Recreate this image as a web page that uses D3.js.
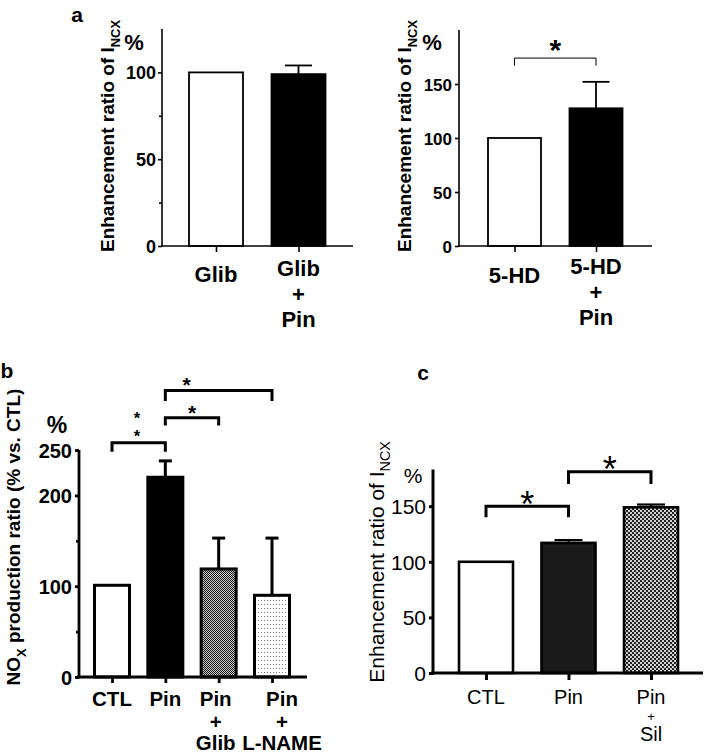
<!DOCTYPE html>
<html><head><meta charset="utf-8">
<script src="https://cdn.jsdelivr.net/npm/d3@7"></script>
<style>
body{margin:0;background:#fff}
svg{display:block}
text{font-family:"Liberation Sans",Arial,Helvetica,sans-serif;fill:#000}
</style>
</head><body>
<svg id="chart" width="709" height="753"></svg>
<script>
// ---------- DATA ----------
// Panel a (left)
const aLeftCategories = ["Glib", "Glib\n+\nPin"];
const aLeftValues = [100, 99];
const aLeftErrors = [0, 5];
const aLeftTicks = [0, 50, 100];
const aLeftMinorTicks = [25, 75];
const aLeftSig = [];

// Panel a (right)
const aRightCategories = ["5-HD", "5-HD\n+\nPin"];
const aRightValues = [100, 127.5];
const aRightErrors = [0, 24.5];
const aRightTicks = [0, 50, 100, 150];
const aRightMinorTicks = [];
const aRightSig = [{from: 0, to: 1, level: 174, leg: 167, label: "*", pos: 0.5}];

// Panel b
const bCategories = ["CTL", "Pin", "Pin\n+\nGlib", "Pin\n+\nL-NAME"];
const bValues = [101, 220, 119, 90];
const bErrors = [0, 18, 34, 63];
const bTicks = [0, 100, 200, 250];
const bMinorTicks = [50, 150];
const bSig = [
  {from: 0, to: 1, level: 258, leg: 248, label: "*\n*", pos: 0.47},
  {from: 1, to: 2, level: 285.5, leg: 277, label: "*", pos: 0.5},
  {from: 1, to: 3, level: 315.5, leg: 304, label: "*", pos: 0.2}
];

// Panel c
const cCategories = ["CTL", "Pin", "Pin\n+\nSil"];
const cValues = [100, 117, 149];
const cErrors = [0, 2.5, 2.5];
const cTicks = [0, 50, 100, 150];
const cMinorTicks = [];
const cSig = [
  {from: 0, to: 1, level: 150, leg: 140, label: "*", pos: 0.5},
  {from: 1, to: 2, level: 181, leg: 170, label: "*", pos: 0.5}
];

// ---------- DRAWING ----------
const svg = d3.select("#chart");
const defs = svg.append("defs");

// checker pattern (Pin + Glib)
const p1 = defs.append("pattern").attr("id","checkFine").attr("patternUnits","userSpaceOnUse").attr("width",2).attr("height",2);
p1.append("rect").attr("width",2).attr("height",2).attr("fill","#c8c8c8");
p1.append("rect").attr("width",1).attr("height",1).attr("fill","#1a1a1a");
p1.append("rect").attr("x",1).attr("y",1).attr("width",1).attr("height",1).attr("fill","#1a1a1a");
// dotted pattern (Pin + L-NAME)
const p2 = defs.append("pattern").attr("id","dots").attr("patternUnits","userSpaceOnUse").attr("width",3).attr("height",4);
p2.append("rect").attr("width",3).attr("height",4).attr("fill","#fff");
p2.append("rect").attr("width",1).attr("height",1).attr("fill","#777");
// checker pattern (Pin + Sil)
const p3 = defs.append("pattern").attr("id","checkC").attr("patternUnits","userSpaceOnUse").attr("width",4).attr("height",4);
p3.append("rect").attr("width",4).attr("height",4).attr("fill","#d0d0d0");
p3.append("rect").attr("width",2).attr("height",2).attr("fill","#222");
p3.append("rect").attr("x",2).attr("y",2).attr("width",2).attr("height",2).attr("fill","#222");

function panel(cfg) {
  const g = svg.append("g");
  const x = d3.scalePoint().domain(cfg.cats).range(cfg.xCenters);
  const y = d3.scaleLinear().domain(cfg.yDomain).range([cfg.y0, cfg.yTop]);
  const lw = cfg.lineW;

  // bars
  g.selectAll("rect.bar").data(cfg.cats).join("rect").attr("class","bar")
    .attr("x", d => x(d) - cfg.barW/2)
    .attr("y", (d,i) => y(cfg.values[i]))
    .attr("width", cfg.barW)
    .attr("height", (d,i) => y(0) - y(cfg.values[i]))
    .attr("fill", (d,i) => cfg.fills[i])
    .attr("stroke", "#000").attr("stroke-width", cfg.barStroke);

  // error bars (upper)
  cfg.cats.forEach((c,i) => {
    const e = cfg.errors[i];
    if (!e) return;
    const cx = x(c), top = y(cfg.values[i] + e);
    g.append("line").attr("x1",cx).attr("x2",cx).attr("y1",y(cfg.values[i])).attr("y2",top)
      .attr("stroke","#000").attr("stroke-width",cfg.errW);
    g.append("line").attr("x1",cx-cfg.capW/2).attr("x2",cx+cfg.capW/2).attr("y1",top).attr("y2",top)
      .attr("stroke","#000").attr("stroke-width",cfg.errW);
  });

  // y axis
  const ya = g.append("g").attr("transform",`translate(${cfg.axisX},0)`)
    .call(d3.axisLeft(y).tickValues(cfg.ticks).tickFormat(d3.format("d"))
      .tickSize(cfg.tickLen).tickPadding(cfg.tickPad).tickSizeOuter(0));
  ya.select(".domain").remove();
  ya.selectAll(".tick line").attr("stroke","#000").attr("stroke-width",lw);
  ya.selectAll(".tick text").attr("font-size",cfg.tickFont).attr("font-weight",cfg.weight)
    .attr("font-family",null).attr("fill","#000").attr("dy","0.36em");
  if (cfg.minor.length) {
    const ym = g.append("g").attr("transform",`translate(${cfg.axisX},0)`)
      .call(d3.axisLeft(y).tickValues(cfg.minor).tickFormat("").tickSize(cfg.minorLen).tickSizeOuter(0));
    ym.select(".domain").remove();
    ym.selectAll(".tick line").attr("stroke","#000").attr("stroke-width",lw);
  }
  g.append("line").attr("x1",cfg.axisX).attr("x2",cfg.axisX).attr("y1",cfg.y0 + lw/2).attr("y2",y(cfg.yDomain[1]))
    .attr("stroke","#000").attr("stroke-width",lw);

  // x axis
  const xa = g.append("g").attr("transform",`translate(0,${cfg.y0})`)
    .call(d3.axisBottom(x).tickFormat("").tickSize(cfg.xTickLen).tickSizeOuter(0));
  xa.select(".domain").remove();
  xa.selectAll(".tick line").attr("stroke","#000").attr("stroke-width",lw);
  g.append("line").attr("x1",cfg.xAxisStart).attr("x2",cfg.xAxisEnd).attr("y1",cfg.y0).attr("y2",cfg.y0)
    .attr("stroke","#000").attr("stroke-width",lw);

  // x labels
  cfg.cats.forEach((c,i) => {
    const lines = c.split("\n");
    const dx = cfg.labelShift ? cfg.labelShift[i] : 0;
    if (lines.length === 1) {
      g.append("text").attr("text-anchor","middle").attr("font-size",cfg.xFont).attr("font-weight",cfg.weight)
        .attr("x",x(c)+dx).attr("y",cfg.singleBase).text(lines[0]);
    } else {
      lines.forEach((ln,k) => {
        const t = g.append("text").attr("text-anchor","middle").attr("font-size",cfg.xFont).attr("font-weight",cfg.weight)
          .attr("x",x(c)+dx).attr("y",cfg.multiBase[k]).text(ln);
        if (ln === "+" && cfg.plusFont) t.attr("font-size",cfg.plusFont);
      });
    }
  });

  // y title
  const yt = g.append("text").attr("transform",`translate(${cfg.titleX},${cfg.titleY}) rotate(-90)`)
    .attr("text-anchor","middle").attr("font-size",cfg.titleFont).attr("font-weight",cfg.weight);
  cfg.title.forEach(part => {
    const ts = yt.append("tspan").text(part.t);
    if (part.sub) ts.attr("font-size",cfg.titleFont*0.68).attr("dy",cfg.titleFont*0.3);
    else if (part.after) ts.attr("dy",-cfg.titleFont*0.3);
  });

  // percent label
  g.append("text").attr("x",cfg.pctX).attr("y",cfg.pctY).attr("text-anchor","middle")
    .attr("font-size",cfg.pctFont).attr("font-weight",cfg.weight).attr("dy","0.36em").text("%");

  // significance brackets
  cfg.sig.forEach(s => {
    const x1 = x(cfg.cats[s.from]), x2 = x(cfg.cats[s.to]);
    const yl = y(s.level), yb = y(s.leg);
    g.append("path").attr("d",`M${x1},${yb}V${yl}H${x2}V${yb}`)
      .attr("fill","none").attr("stroke","#000").attr("stroke-width",cfg.sigW);
    const sx = x1 + (x2 - x1)*s.pos;
    const stars = s.label.split("\n");
    const fs = stars.length > 1 ? cfg.stackFont : cfg.starFont;
    stars.forEach((st,k) => {
      const cy = yl - cfg.starGap - (stars.length-1-k)*cfg.starStep;
      g.append("text").attr("text-anchor","middle").attr("font-size",fs).attr("font-weight",cfg.weight)
        .attr("x",sx).attr("y",cy + fs*0.57).text(st);
    });
  });

  // panel letter
  if (cfg.letter) {
    svg.append("text").attr("x",cfg.letter.x).attr("y",cfg.letter.y).attr("text-anchor","middle")
      .attr("dy","0.36em").attr("font-size",21).attr("font-weight","bold").text(cfg.letter.t);
  }
}

const inxcTitle = [{t:"Enhancement ratio of I"},{t:"NCX",sub:true}];

panel({
  cats: aLeftCategories, values: aLeftValues, errors: aLeftErrors, ticks: aLeftTicks, minor: aLeftMinorTicks, sig: aLeftSig,
  fills: ["#fff","#000"],
  xCenters: [216, 298.5], barW: 54, yDomain: [0,125], y0: 246, yTop: 29,
  axisX: 162, xAxisStart: 161, xAxisEnd: 353, lineW: 1.6, barStroke: 1.8, errW: 1.8, capW: 27,
  tickLen: 4, minorLen: 3, tickPad: 2, tickFont: 18, weight: "bold", xTickLen: 6,
  xFont: 22, singleBase: 282, multiBase: [276, 302, 327],
  titleX: 114, titleY: 136, titleFont: 19, title: inxcTitle,
  pctX: 134, pctY: 42, pctFont: 22,
  sigW: 1, starGap: 15, starStep: 0, starFont: 30,
  letter: {t:"a", x:77, y:14}
});

panel({
  cats: aRightCategories, values: aRightValues, errors: aRightErrors, ticks: aRightTicks, minor: aRightMinorTicks, sig: aRightSig,
  fills: ["#fff","#000"],
  xCenters: [514.5, 596], barW: 53, yDomain: [0,200], y0: 246, yTop: 30,
  axisX: 459, xAxisStart: 458, xAxisEnd: 652, lineW: 1.6, barStroke: 1.8, errW: 1.8, capW: 27,
  tickLen: 4, minorLen: 3, tickPad: 3, tickFont: 17, weight: "bold", xTickLen: 6,
  xFont: 22, singleBase: 283, multiBase: [274, 300, 325],
  titleX: 411, titleY: 136, titleFont: 19, title: inxcTitle,
  pctX: 432, pctY: 42, pctFont: 22,
  sigW: 1, starGap: 15, starStep: 0, starFont: 30
});

panel({
  cats: bCategories, values: bValues, errors: bErrors, ticks: bTicks, minor: bMinorTicks, sig: bSig,
  fills: ["#fff","#000","url(#checkFine)","url(#dots)"],
  xCenters: [112, 272], barW: 35, yDomain: [0,250], y0: 677, yTop: 450,
  axisX: 79, xAxisStart: 77, xAxisEnd: 307, lineW: 2.8, barStroke: 3, errW: 3, capW: 13,
  tickLen: 4, minorLen: 3, tickPad: 3, tickFont: 20, weight: "bold", xTickLen: 6,
  xFont: 20.5, singleBase: 706, multiBase: [706, 729, 750], labelShift: [0, 0, -3, 10],
  titleX: 20, titleY: 537, titleFont: 19,
  title: [{t:"NO"},{t:"X",sub:true},{t:" production ratio (% vs. CTL)",after:true}],
  pctX: 57, pctY: 425, pctFont: 23,
  sigW: 3, starGap: 10, starStep: 18.5, starFont: 21, stackFont: 16.5,
  letter: {t:"b", x:7, y:370}
});

panel({
  cats: cCategories, values: cValues, errors: cErrors, ticks: cTicks, minor: cMinorTicks, sig: cSig,
  fills: ["#fff","#1a1a1a","url(#checkC)"],
  xCenters: [486, 651], barW: 54, yDomain: [0,183], y0: 673, yTop: 469.5,
  axisX: 433, xAxisStart: 431, xAxisEnd: 703, lineW: 3, barStroke: 2.6, errW: 2.2, capW: 28,
  tickLen: 4, minorLen: 3, tickPad: 3, tickFont: 21, weight: "normal", xTickLen: 7,
  xFont: 20, singleBase: 704, multiBase: [704, 721, 741], plusFont: 13,
  titleX: 384, titleY: 562, titleFont: 21, title: inxcTitle,
  pctX: 413, pctY: 475, pctFont: 21,
  sigW: 3, starGap: 10, starStep: 0, starFont: 36, stackFont: 36,
  letter: {t:"c", x:423, y:372}
});
</script>
</body></html>
